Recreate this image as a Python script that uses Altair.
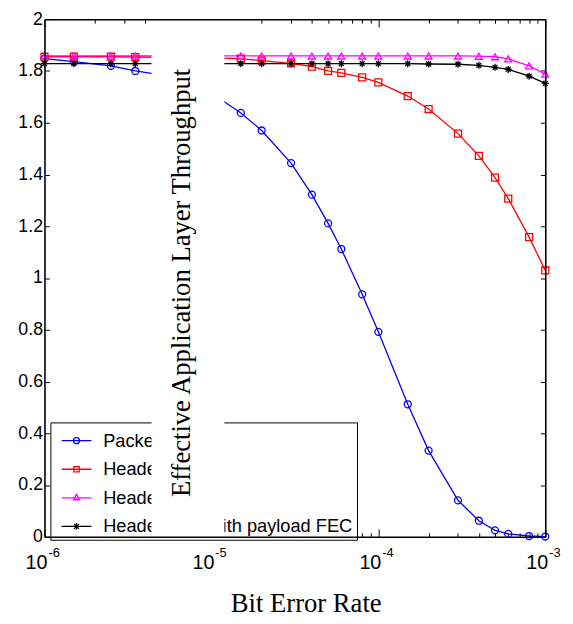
import altair as alt
import pandas as pd

# ---------------- data ----------------
ber = [1e-6, 1.5e-6, 2.5e-6, 3.5e-6, 5e-6, 7e-6, 1e-5, 1.5e-5, 2e-5, 3e-5, 4e-5,
       5e-5, 6e-5, 8e-5, 1e-4, 1.5e-4, 2e-4, 3e-4, 4e-4, 5e-4, 6e-4, 8e-4, 1e-3]

packet_fec = [1.848, 1.836, 1.820, 1.800, 1.785, 1.755, 1.715, 1.638, 1.570, 1.444, 1.322,
              1.211, 1.112, 0.937, 0.792, 0.512, 0.333, 0.141, 0.062, 0.025, 0.011, 0.003, 0.001]
header_fec = [1.855, 1.855, 1.855, 1.854, 1.853, 1.852, 1.851, 1.848, 1.840, 1.829, 1.817,
              1.800, 1.793, 1.775, 1.756, 1.703, 1.653, 1.558, 1.472, 1.388, 1.307, 1.158, 1.029]
header_crc = [1.858, 1.858, 1.858, 1.858, 1.858, 1.858, 1.858, 1.858, 1.858, 1.858, 1.858,
              1.858, 1.858, 1.858, 1.858, 1.858, 1.858, 1.858, 1.857, 1.855, 1.847, 1.820, 1.788]
header_payload_fec = [1.828, 1.828, 1.828, 1.828, 1.828, 1.828, 1.828, 1.828, 1.828, 1.828, 1.828,
                      1.828, 1.828, 1.828, 1.828, 1.828, 1.827, 1.826, 1.822, 1.814, 1.806, 1.780, 1.752]

series_names = ["Packet FEC", "Header FEC", "Header CRC", "Header FEC with payload FEC"]
series_values = [packet_fec, header_fec, header_crc, header_payload_fec]
series_colors = ["#0000ff", "#ff0000", "#ff00ff", "#000000"]
series_shapes = ["circle", "square", "triangle-up",
                 "M0,-1V1M-1,0H1M-0.7,-0.7L0.7,0.7M-0.7,0.7L0.7,-0.7"]
legend_paths = [
    "M-1.1,0H1.1M0.22,0A0.22,0.22 0 1,1 -0.22,0A0.22,0.22 0 1,1 0.22,0",
    "M-1.1,0H1.1M-0.2,-0.2H0.2V0.2H-0.2Z",
    "M-1.1,0H1.1M0,-0.26L0.22,0.14H-0.22Z",
    "M-1.1,0H1.1M0,-0.25V0.25M-0.18,-0.18L0.18,0.18M-0.18,0.18L0.18,-0.18",
]

x_major = [1e-6, 1e-5, 1e-4, 1e-3]
x_bases = ["10", "10", "10", "10"]
x_exponents = ["-6", "-5", "-4", "-3"]
x_minor = [2e-6, 3e-6, 4e-6, 5e-6, 6e-6, 7e-6, 8e-6, 9e-6,
           2e-5, 3e-5, 4e-5, 5e-5, 6e-5, 7e-5, 8e-5, 9e-5,
           2e-4, 3e-4, 4e-4, 5e-4, 6e-4, 7e-4, 8e-4, 9e-4]
y_ticks = [0, 0.2, 0.4, 0.6, 0.8, 1.0, 1.2, 1.4, 1.6, 1.8, 2.0]
x_domain = [1e-6, 1e-3]
y_domain = [0, 2]
mask_center = [7.2e-6]  # centre of the white box that hides part of the plot

y_title = "Effective Application Layer Throughput"
x_title = "Bit Error Rate"

# ---------------- table ----------------
rows = []
for name, vals in zip(series_names, series_values):
    for b, v in zip(ber, vals):
        rows.append({"ber": b, "value": v, "series": name})
df = pd.DataFrame(rows)
lab_df = pd.DataFrame({"ber": x_major, "base": x_bases, "exp": x_exponents})

xs = alt.Scale(type="log", domain=x_domain, nice=False)
ys = alt.Scale(domain=y_domain, nice=False, zero=False)
cs = alt.Scale(domain=series_names, range=series_colors)
ls = alt.Scale(domain=series_names, range=legend_paths)

SANS = "Liberation Sans"
SERIF = "Liberation Serif"

leg = alt.Legend(
    title=None, orient="none", legendX=6, legendY=409, padding=4,
    fillColor="white", strokeColor="black",
    labelFont=SANS, labelFontSize=18.5, labelColor="black", labelLimit=0,
    symbolSize=756, symbolOffset=8, labelOffset=12.5, rowPadding=5,
    symbolStrokeWidth=1.3, zindex=0,
)


def noaxis(**kw):
    base = dict(grid=False, title=None, labels=False, ticks=False, domain=False)
    base.update(kw)
    return alt.Axis(**base)


base = alt.Chart(df)
dummy = base.transform_filter("false")

# series lines and markers
line_layers = []
point_layers = []
for i, (name, color, shape) in enumerate(zip(series_names, series_colors, series_shapes)):
    sub = base.transform_filter(alt.datum.series == name)
    if i == 0:
        x_axis = noaxis(orient="bottom", values=x_major, ticks=True, tickSize=8,
                        offset=-8, tickColor="black", zindex=0)
        y_axis = alt.Axis(
            orient="left", values=y_ticks, tickSize=5, offset=-5, tickColor="black",
            domain=False, grid=False, title=None, format="~g", labelFont=SANS,
            labelFontSize=18, labelColor="black", labelPadding=2, labelOverlap=False,
            zindex=0)
    else:
        x_axis = None
        y_axis = None
    line_layers.append(
        sub.mark_line(strokeWidth=1.3, color=color).encode(
            x=alt.X("ber:Q", scale=xs, axis=x_axis),
            y=alt.Y("value:Q", scale=ys, axis=y_axis),
        )
    )
    point_layers.append(
        sub.mark_point(shape=shape, filled=False, size=50, strokeWidth=1.3,
                       opacity=1, color=color).encode(
            x=alt.X("ber:Q", scale=xs, axis=None),
            y=alt.Y("value:Q", scale=ys, axis=None),
        )
    )

# legend (built from the colour / shape scales) + minor bottom ticks + right ticks
legend_layer = dummy.mark_point(filled=False, strokeWidth=1.3, opacity=1).encode(
    x=alt.X("ber:Q", scale=xs, axis=noaxis(orient="bottom", values=x_minor, ticks=True,
                                           tickSize=4, offset=-4, tickColor="black", zindex=0)),
    y=alt.Y("value:Q", scale=ys, axis=noaxis(orient="right", values=y_ticks, ticks=True,
                                             tickSize=5, offset=-5, tickColor="black", zindex=0)),
    color=alt.Color("series:N", scale=cs, legend=leg),
    shape=alt.Shape("series:N", scale=ls, legend=leg),
)

lab_base = alt.Chart(lab_df).mark_text(
    align="right", baseline="alphabetic", dx=3, dy=33, font=SANS, fontSize=20, color="black"
).encode(
    x=alt.X("ber:Q", scale=xs, axis=noaxis(orient="top", values=x_major, ticks=True,
                                           tickSize=8, offset=-8, tickColor="black", zindex=0)),
    y=alt.YDatum(0, type="quantitative", scale=ys,
                 axis=noaxis(orient="left", domain=True, domainColor="black",
                             domainWidth=1.6, zindex=3)),
    text="base:N",
)

lab_exp = alt.Chart(lab_df).mark_text(
    align="left", baseline="alphabetic", dx=4, dy=20, font=SANS, fontSize=13, color="black"
).encode(
    x=alt.X("ber:Q", scale=xs, axis=None),
    y=alt.YDatum(0, type="quantitative", scale=ys, axis=None),
    text="exp:N",
)

top_minor = dummy.mark_point(opacity=0).encode(
    x=alt.X("ber:Q", scale=xs, axis=noaxis(orient="top", values=x_minor, ticks=True,
                                           tickSize=4, offset=-4, tickColor="black", zindex=0)),
    y=alt.Y("value:Q", scale=ys, axis=noaxis(orient="right", domain=True, domainColor="black",
                                             domainWidth=1.6, zindex=3)),
)

mask = dummy.mark_point(opacity=0).encode(
    x=alt.X("ber:Q", scale=xs, axis=alt.Axis(
        orient="top", values=mask_center, grid=True, gridColor="white", gridWidth=74,
        gridOpacity=1, ticks=False, labels=False, domain=False,
        title=y_title, titleFont=SERIF, titleFontSize=27, titleFontWeight="normal",
        titleColor="black", titleAngle=270, titleX=147, titleY=267,
        titleAlign="center", titleBaseline="alphabetic", zindex=2)),
    y=alt.Y("value:Q", scale=ys, axis=None),
)

frame_bottom = dummy.mark_point(opacity=0).encode(
    x=alt.X("ber:Q", scale=xs, axis=alt.Axis(
        orient="bottom", domain=True, domainColor="black", domainWidth=1.6,
        ticks=False, labels=False, grid=False,
        title=x_title, titleFont=SERIF, titleFontSize=27, titleFontWeight="normal",
        titleColor="black", titleX=265, titleY=76, titleAlign="center",
        titleBaseline="alphabetic", zindex=3)),
    y=alt.Y("value:Q", scale=ys, axis=None),
)

frame_top = dummy.mark_point(opacity=0).encode(
    x=alt.X("ber:Q", scale=xs, axis=noaxis(orient="top", domain=True, domainColor="black",
                                           domainWidth=1.6, zindex=3)),
    y=alt.Y("value:Q", scale=ys, axis=None),
)

chart = alt.layer(
    *line_layers, *point_layers, legend_layer, lab_base, lab_exp, top_minor, mask,
    frame_bottom, frame_top
).resolve_axis(
    x="independent", y="independent"
).properties(
    width=508, height=525,
    autosize=alt.AutoSizeParams(type="none"),
    padding={"left": 37, "top": 7, "right": 20, "bottom": 78},
    background="white",
).configure_view(stroke=None)

chart.save("out.html", embed_options={"renderer": "svg", "actions": False})
